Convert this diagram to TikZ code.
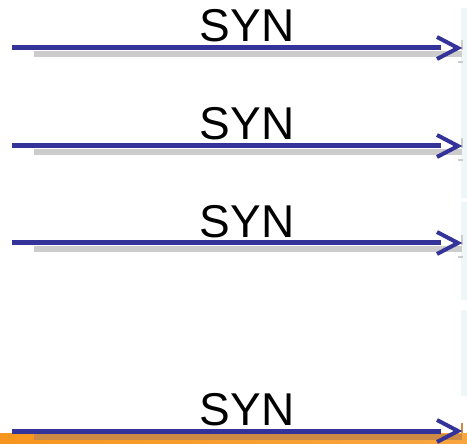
\documentclass[tikz,border=0pt]{standalone}
\usepackage{fontspec}
\setmainfont{Liberation Sans}
\definecolor{synblue}{HTML}{333399}
\definecolor{shadowgray}{HTML}{CCCCCC}
\definecolor{stripblue}{HTML}{EEF6F8}
\definecolor{bandorange}{HTML}{F7961E}
\definecolor{bandshadow}{HTML}{CD8A45}
\tikzset{
  msgline/.style={draw=synblue, line width=5pt},
  chevron/.style={draw=synblue, line width=4pt, line cap=butt, line join=miter},
  msglabel/.style={font=\fontsize{46}{46}\selectfont, inner sep=0pt, anchor=base, text=black},
}
\begin{document}
\begin{tikzpicture}[x=1pt,y=-1pt]
\useasboundingbox (0,0) rectangle (467,444);
\fill[white] (0,0) rectangle (467,444);
% right faint strip
\fill[stripblue] (461,8) rectangle (467,198);
\fill[stripblue] (461,202) rectangle (467,300);
\fill[stripblue] (461,310) rectangle (467,396);
% bottom orange band
\shade[left color=bandorange, right color=bandorange!85!white] (0,433) rectangle (467,444);
\foreach \y/\n/\sc in {48/a/shadowgray, 146/b/shadowgray, 243/c/shadowgray, 431/d/bandshadow}{
  \coordinate (s\n) at (12,\y);
  \coordinate (e\n) at (441,\y);
  \coordinate (t\n) at (458,\y);
  \coordinate (ss\n) at (34,\y+6);
  \coordinate (se\n) at (462,\y+6);
  \draw[line width=6pt, draw=\sc] (ss\n) -- (se\n);
  \draw[line width=2.5pt, draw=\sc] (462,\y-8) -- (462,\y+2);
  \draw[line width=2.5pt, draw=\sc] (458,\y+14) -- (463,\y+14);
  \draw[msgline] (s\n) -- (e\n);
  \draw[chevron] ([shift={(-21,-11)}]t\n) -- (t\n) -- ([shift={(-21,11)}]t\n);
  \node[msglabel] (l\n) at (247,\y-6) {SYN};
}
\end{tikzpicture}
\end{document}
